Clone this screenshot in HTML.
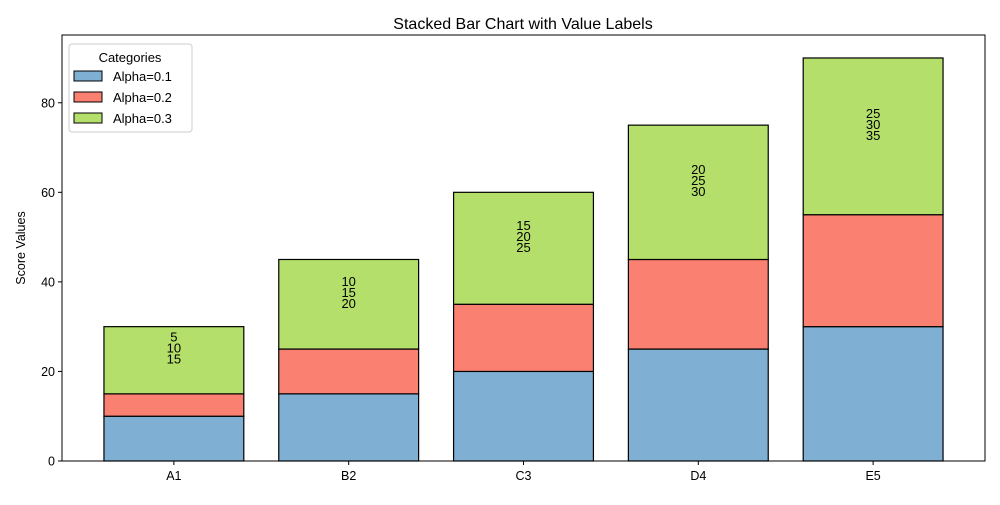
<!DOCTYPE html>
<html><head><meta charset="utf-8"><style>
body{margin:0;background:#fff;}
svg{font-family:"Liberation Sans","DejaVu Sans",sans-serif;}
</style></head><body>
<svg id="chart" width="1000" height="500">
<text x="523" y="29" font-size="16" text-anchor="middle">Stacked Bar Chart with Value Labels</text>
<g id="bars"></g>
<g id="axes"></g>
<text transform="translate(25,248) rotate(-90)" font-size="12.5" text-anchor="middle">Score Values</text>
<g>
<rect x="69" y="44" width="123" height="88" rx="3" fill="#fff" stroke="#ccc"/>
<text x="130" y="62" font-size="13" text-anchor="middle">Categories</text>
<g><rect x="74" y="71" width="28" height="10" fill="#7fb0d3" stroke="#000"/><text x="113" y="81" font-size="13">Alpha=0.1</text></g>
<g><rect x="74" y="92" width="28" height="10" fill="#fa8072" stroke="#000"/><text x="113" y="102" font-size="13">Alpha=0.2</text></g>
<g><rect x="74" y="113" width="28" height="10" fill="#b4df6a" stroke="#000"/><text x="113" y="123" font-size="13">Alpha=0.3</text></g>
</g>
</svg>
<script>
const categories=["A1","B2","C3","D4","E5"];
const alpha1=[10,15,20,25,30];
const alpha2=[5,10,15,20,25];
const alpha3=[15,20,25,30,35];
const yTicks=[0,20,40,60,80];
const L=62,R=985,T=35,B=461,yMax=95.13;
const xMin=-0.64,xMax=categories.length-1+0.64;
const slot=(R-L)/(xMax-xMin);
const xc=i=>L+slot*(i-xMin);
const y=v=>B-(B-T)*v/yMax;
const NS="http://www.w3.org/2000/svg";
const bars=document.getElementById('bars'),axes=document.getElementById('axes');
function mk(tag,attrs,parent){const e=document.createElementNS(NS,tag);for(const k in attrs)e.setAttribute(k,attrs[k]);parent.appendChild(e);return e;}
const series=[[alpha1,"#7fb0d3","alpha-0-1"],[alpha2,"#fa8072","alpha-0-2"],[alpha3,"#b4df6a","alpha-0-3"]];
const bw=slot*0.8;
categories.forEach((c,i)=>{
  let base=0;
  series.forEach(([vals,col,nm])=>{
    const v=vals[i];
    const r=mk('rect',{x:xc(i)-bw/2,y:y(base+v),width:bw,height:y(base)-y(base+v),fill:col,stroke:'#000','stroke-width':1.2},bars);
    
    
    base+=v;
  });
  const gc=y(alpha1[i]+alpha2[i]+alpha3[i]/2);
  [alpha2[i],alpha1[i],alpha3[i]].forEach((v,k)=>{
    const t=mk('text',{x:xc(i),y:gc+3.5-(2-k)*11,'font-size':13,'text-anchor':'middle'},bars);
    t.textContent=v;
    
    
  });
  mk('line',{x1:xc(i),x2:xc(i),y1:B,y2:B+4,stroke:'#000'},axes);
  const tl=mk('text',{x:xc(i),y:B+19,'font-size':12.5,'text-anchor':'middle'},axes);
  tl.textContent=c;
  
  
});
yTicks.forEach(v=>{
  mk('line',{x1:L-4,x2:L,y1:y(v),y2:y(v),stroke:'#000'},axes);
  const t=mk('text',{x:L-7,y:y(v)+4.5,'font-size':12.5,'text-anchor':'end'},axes);
  t.textContent=v;
  
  
});
const f=mk('rect',{x:L,y:T,width:R-L,height:B-T,fill:'none',stroke:'#000','stroke-width':1},axes);


</script>
</body></html>
